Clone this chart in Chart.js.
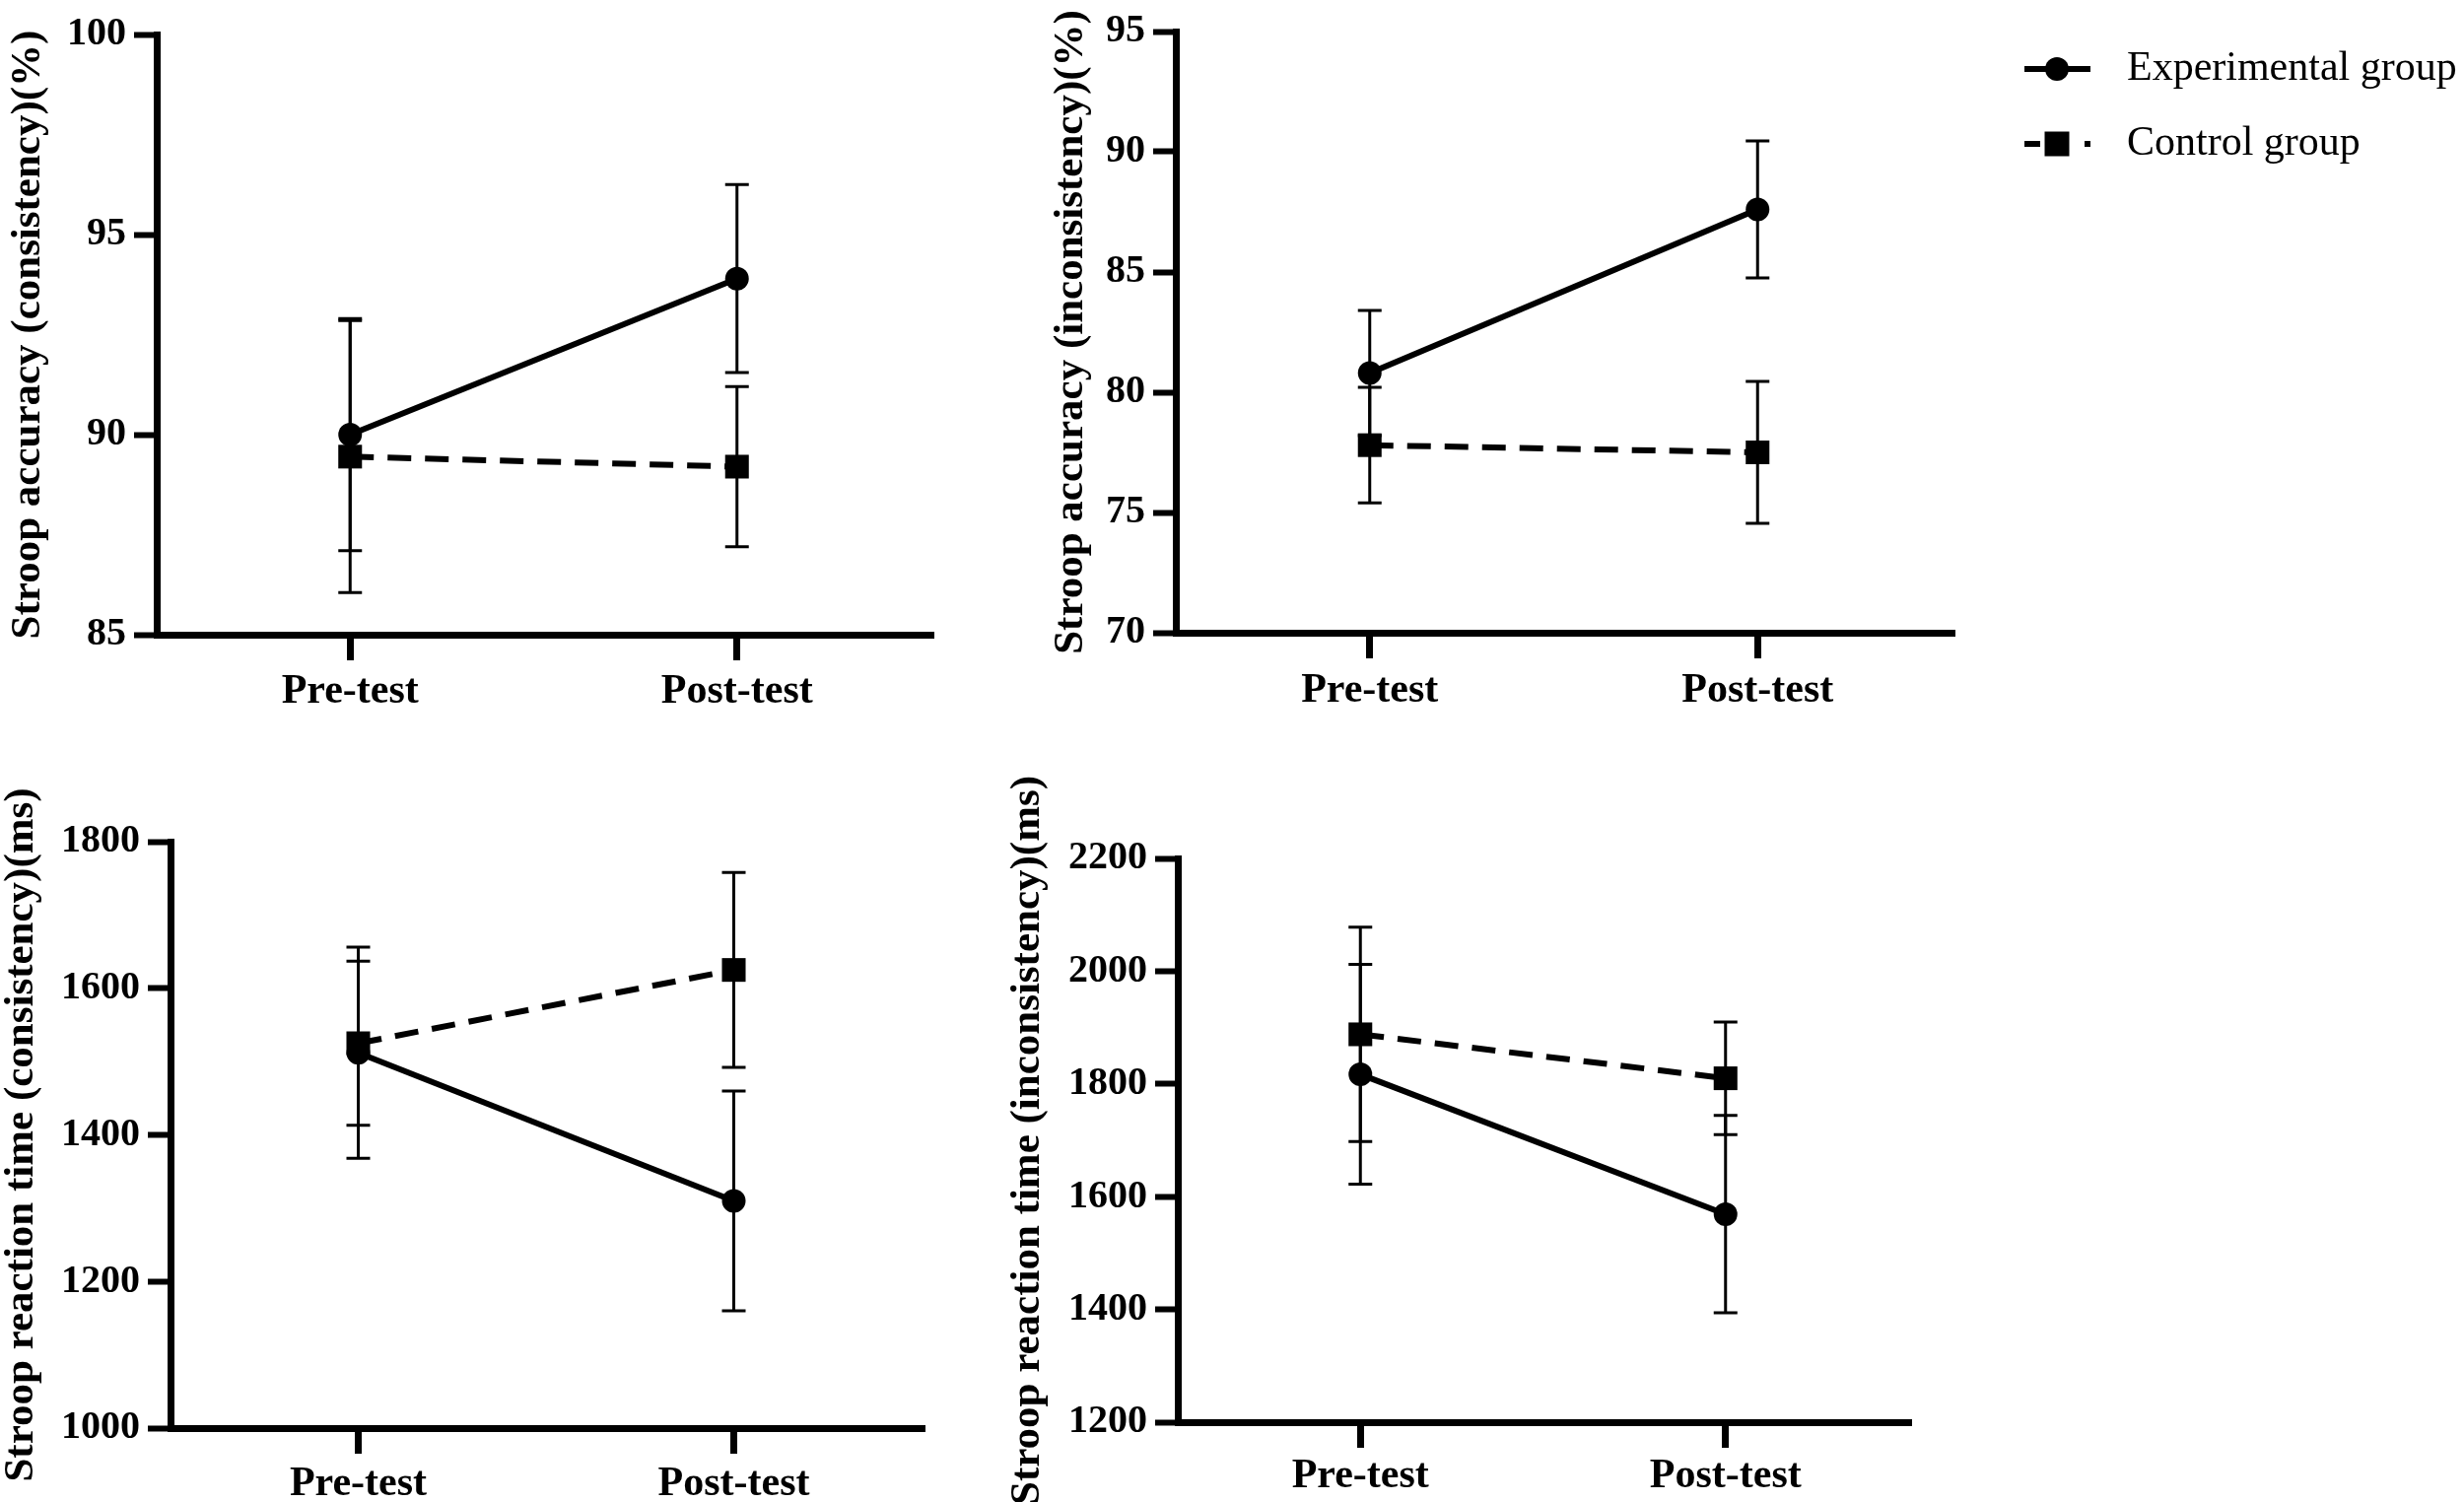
<!DOCTYPE html>
<html>
<head>
<meta charset="utf-8">
<title>Stroop accuracy and reaction time</title>
<script src="https://cdn.jsdelivr.net/npm/chart.js@4.4.1/dist/chart.umd.min.js"></script>
<style>
  html, body { margin: 0; padding: 0; background: #fff; }
  body { width: 2500px; height: 1524px; position: relative; overflow: hidden; }
  canvas { position: absolute; display: block; }
</style>
</head>
<body>
<canvas id="acc-con"></canvas>
<canvas id="acc-inc"></canvas>
<canvas id="rt-con"></canvas>
<canvas id="rt-inc"></canvas>

<script>
// Categories and group names
const categories = ['Pre-test', 'Post-test'];
const groupNames = ['Experimental group', 'Control group'];

// Stroop accuracy, consistency (%)
const accConExp = [90.0, 93.9];
const accConExpErr = [2.9, 2.35];
const accConCtl = [89.45, 89.2];
const accConCtlErr = [3.4, 2.0];

// Stroop accuracy, inconsistency (%)
const accIncExp = [80.8, 87.6];
const accIncExpErr = [2.6, 2.85];
const accIncCtl = [77.8, 77.5];
const accIncCtlErr = [2.4, 2.95];

// Stroop reaction time, consistency (ms)
const rtConExp = [1512, 1310];
const rtConExpErr = [144, 150];
const rtConCtl = [1525, 1625];
const rtConCtlErr = [112, 133];

// Stroop reaction time, inconsistency (ms)
const rtIncExp = [1817, 1569];
const rtIncExpErr = [195, 175];
const rtIncCtl = [1888, 1810];
const rtIncCtlErr = [190, 100];

// Y axis ranges: [min, max, step]
const accConRange = [85, 100, 5];
const accIncRange = [70, 95, 5];
const rtConRange = [1000, 1800, 200];
const rtIncRange = [1200, 2200, 200];

const FONT = '"Liberation Serif", "Times New Roman", serif';
const INK = '#000';

/**
 * Draw mean +/- error bars behind the markers
 */
const errorBars = {
  id: 'errorBars',
  beforeDatasetsDraw(chart, args, opts) {
    const { ctx, scales: { x, y } } = chart;
    ctx.save();
    ctx.strokeStyle = INK;
    ctx.lineWidth = opts.width;
    chart.data.datasets.forEach(ds => {
      ds.errors.forEach((err, j) => {
        const px = x.getPixelForValue(j);
        const top = y.getPixelForValue(ds.data[j] + err);
        const bottom = y.getPixelForValue(ds.data[j] - err);
        ctx.beginPath();
        ctx.moveTo(px, top);
        ctx.lineTo(px, bottom);
        ctx.moveTo(px - opts.cap, top);
        ctx.lineTo(px + opts.cap, top);
        ctx.moveTo(px - opts.cap, bottom);
        ctx.lineTo(px + opts.cap, bottom);
        ctx.stroke();
      });
    });
    ctx.restore();
  }
};

/**
 * Rotated y axis title (drawn by hand so it is not squeezed to the axis height)
 */
const yTitle = {
  id: 'yTitle',
  afterDraw(chart, args, opts) {
    const { ctx, chartArea } = chart;
    ctx.save();
    ctx.translate(opts.x, (chartArea.top + chartArea.bottom) / 2);
    ctx.rotate(-Math.PI / 2);
    ctx.font = `bold ${opts.size}px ${FONT}`;
    ctx.fillStyle = INK;
    ctx.textAlign = 'center';
    ctx.textBaseline = 'middle';
    ctx.fillText(opts.text, 0, 0);
    ctx.restore();
  }
};

/**
 * Legend to the right of the top-right panel
 */
const sideLegend = {
  id: 'sideLegend',
  afterDraw(chart, args, opts) {
    if (!opts.show) return;
    const { ctx } = chart;
    chart.data.datasets.forEach((ds, i) => {
      const y = opts.rows[i];
      ctx.save();
      ctx.strokeStyle = INK;
      ctx.fillStyle = INK;
      ctx.lineWidth = ds.borderWidth;
      ctx.setLineDash(ds.borderDash ? opts.dash : []);
      ctx.beginPath();
      ctx.moveTo(opts.x1, y);
      ctx.lineTo(opts.x2, y);
      ctx.stroke();
      ctx.setLineDash([]);
      if (ds.pointStyle === 'circle') {
        ctx.beginPath();
        ctx.arc(opts.mx, y, opts.r, 0, Math.PI * 2);
        ctx.fill();
      } else {
        ctx.fillRect(opts.mx - opts.side / 2, y - opts.side / 2, opts.side, opts.side);
      }
      ctx.font = `${opts.size}px ${FONT}`;
      ctx.textAlign = 'left';
      ctx.textBaseline = 'middle';
      ctx.fillText(ds.label, opts.tx, y);
      ctx.restore();
    });
  }
};

// Panel placement on the page (chart area edges are page-relative)
const panels = [
  {
    id: 'acc-con', left: 0, top: 0, width: 1000, height: 760,
    area: { left: 159, right: 944, top: 35, bottom: 644 },
    titleX: 29, labelPad: 7, range: accConRange,
    title: 'Stroop accuracy (consistency)(%)',
    exp: accConExp, expErr: accConExpErr, ctl: accConCtl, ctlErr: accConCtlErr,
  },
  {
    id: 'acc-inc', left: 1000, top: 0, width: 1500, height: 760,
    area: { left: 1193, right: 1980, top: 32, bottom: 642 },
    titleX: 1087, labelPad: 8, range: accIncRange, legend: true,
    title: 'Stroop accuracy (inconsistency)(%)',
    exp: accIncExp, expErr: accIncExpErr, ctl: accIncCtl, ctlErr: accIncCtlErr,
  },
  {
    id: 'rt-con', left: 0, top: 760, width: 1000, height: 764,
    area: { left: 173, right: 935, top: 854, bottom: 1449 },
    titleX: 22, labelPad: 6, range: rtConRange,
    title: 'Stroop reaction time (consistency)(ms)',
    exp: rtConExp, expErr: rtConExpErr, ctl: rtConCtl, ctlErr: rtConCtlErr,
  },
  {
    id: 'rt-inc', left: 1000, top: 760, width: 1000, height: 764,
    area: { left: 1195, right: 1936, top: 871, bottom: 1443 },
    titleX: 1043, labelPad: 4, range: rtIncRange,
    title: 'Stroop reaction time (inconsistency)(ms)',
    exp: rtIncExp, expErr: rtIncExpErr, ctl: rtIncCtl, ctlErr: rtIncCtlErr,
  },
];

function createPanel(p) {
  const canvas = document.getElementById(p.id);
  canvas.width = p.width;
  canvas.height = p.height;
  canvas.style.left = p.left + 'px';
  canvas.style.top = p.top + 'px';
  canvas.style.width = p.width + 'px';
  canvas.style.height = p.height + 'px';

  const a = {
    left: p.area.left - p.left,
    right: p.area.right - p.left,
    top: p.area.top - p.top,
    bottom: p.area.bottom - p.top,
  };

  const axisGrid = {
    display: true,
    drawOnChartArea: false,
    drawTicks: true,
    color: INK,
    lineWidth: 7,
    tickColor: INK,
    tickWidth: 7,
  };

  return new Chart(canvas, {
    type: 'line',
    data: {
      labels: categories,
      datasets: [
        {
          label: groupNames[0],
          data: p.exp,
          errors: p.expErr,
          borderColor: INK,
          borderWidth: 6,
          pointStyle: 'circle',
          pointRadius: 12,
          pointBorderWidth: 0,
          pointBackgroundColor: INK,
          pointBorderColor: INK,
          tension: 0,
          fill: false,
          order: 1,
        },
        {
          label: groupNames[1],
          data: p.ctl,
          errors: p.ctlErr,
          borderColor: INK,
          borderWidth: 6,
          borderDash: [24, 14],
          pointStyle: 'rect',
          pointRadius: 17,
          pointBorderWidth: 0,
          pointBackgroundColor: INK,
          pointBorderColor: INK,
          tension: 0,
          fill: false,
          order: 0,
        },
      ],
    },
    options: {
      responsive: false,
      animation: false,
      events: [],
      devicePixelRatio: 1,
      layout: {
        padding: { left: 0, top: a.top, right: p.width - a.right, bottom: 0 },
      },
      plugins: {
        legend: { display: false },
        tooltip: { enabled: false },
        errorBars: { width: 3, cap: 12 },
        yTitle: { text: p.title, x: p.titleX - p.left, size: 43 },
        sideLegend: {
          show: !!p.legend,
          rows: [70, 146],
          x1: 2054 - p.left,
          x2: 2121 - p.left,
          mx: 2087 - p.left,
          r: 12,
          side: 25,
          dash: [16, 45],
          tx: 2158 - p.left,
          size: 42,
        },
      },
      scales: {
        x: {
          type: 'category',
          offset: true,
          grid: { ...axisGrid, tickLength: 26 },
          border: { display: true, color: INK, width: 7 },
          ticks: {
            color: INK,
            font: { family: FONT, weight: 'bold', size: 42 },
            padding: p.labelPad,
            maxRotation: 0,
            autoSkip: false,
          },
          afterFit: s => { s.height = p.height - a.bottom; },
        },
        y: {
          type: 'linear',
          min: p.range[0],
          max: p.range[1],
          grid: { ...axisGrid, tickLength: 23, tickWidth: 6 },
          border: { display: true, color: INK, width: 7 },
          ticks: {
            stepSize: p.range[2],
            color: INK,
            font: { family: FONT, weight: 'bold', size: 40 },
            padding: 8,
            callback: value => String(value),
          },
          afterFit: s => { s.width = a.left; },
        },
      },
    },
    plugins: [errorBars, yTitle, sideLegend],
  });
}

function init() {
  panels.forEach(createPanel);
}

Promise.all([
  document.fonts.load(`bold 40px ${FONT}`),
  document.fonts.load(`40px ${FONT}`),
]).then(init, init);
</script>
</body>
</html>
